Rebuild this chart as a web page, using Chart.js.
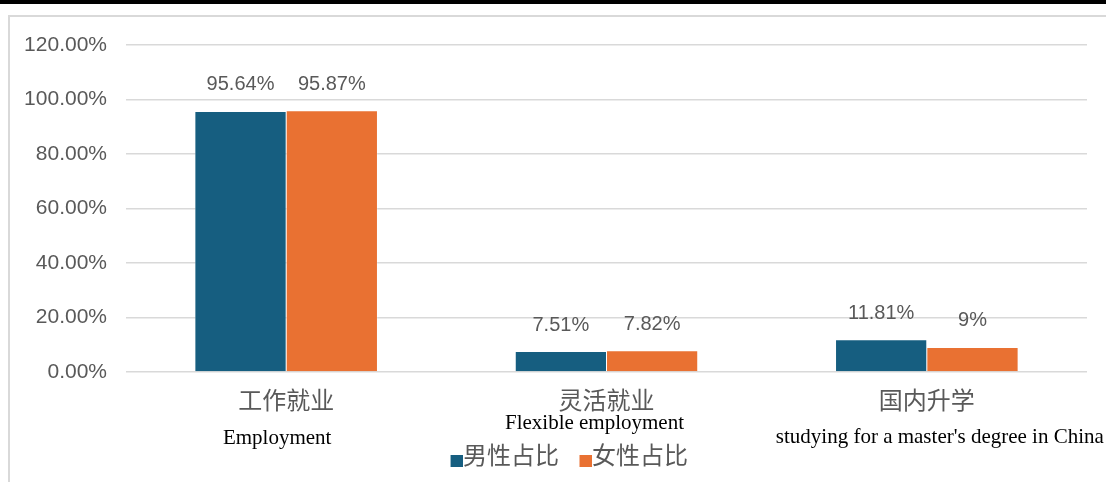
<!DOCTYPE html>
<html>
<head>
<meta charset="utf-8">
<script src="https://cdn.jsdelivr.net/npm/chart.js@4.4.1/dist/chart.umd.min.js"></script>
<style>
  html, body { margin: 0; padding: 0; background: #fff; }
  #wrap { position: relative; width: 1106px; height: 482px; }
  canvas { display: block; }
</style>
</head>
<body>
<div id="wrap"><canvas id="c" width="1106" height="482"></canvas></div>
<script>
// Categories (Chinese axis labels) and their English captions
const categories = ['工作就业', '灵活就业', '国内升学'];
const englishNames = ['Employment', 'Flexible employment', "studying for a master's degree in China"];

// Series: share of male / female graduates (%)
const seriesNames = ['男性占比', '女性占比'];
const maleShare = [95.64, 7.51, 11.81];
const femaleShare = [95.87, 7.82, 9];

// Value-axis ticks
const yTicks = [0, 20, 40, 60, 80, 100, 120];

// Styling
const BLUE = '#165E80';
const ORANGE = '#E97132';
const GRAY_TEXT = '#595959';
const GRID = '#d9d9d9';

// caption placement relative to each category centre: [dx, baseline y]
const captionPlacement = [[-9, 444], [-12, 429], [13, 443]];

function fmtLabel(v) {
  return v + '%';
}

// Legend marker: a square sitting a little right of and below the text centre line
function legendSwatch(color) {
  const c = document.createElement('canvas');
  c.width = 24;
  c.height = 26;
  const g = c.getContext('2d');
  g.fillStyle = color;
  g.fillRect(12, 13, 12, 12);
  return c;
}

const framePlugin = {
  id: 'frame',
  beforeDraw(chart) {
    const ctx = chart.ctx;
    ctx.save();
    ctx.fillStyle = '#fff';
    ctx.fillRect(0, 0, chart.width, chart.height);
    ctx.fillStyle = '#000';
    ctx.fillRect(0, 0, chart.width, 4);
    ctx.fillStyle = GRID;
    ctx.fillRect(8, 15, chart.width - 8, 2);
    ctx.fillRect(8, 15, 2, chart.height - 15);
    ctx.restore();
  }
};

// Nudge the legend row into place under the captions
const legendPlacePlugin = {
  id: 'legendPlace',
  afterLayout(chart) {
    const lg = chart.legend;
    if (!lg) return;
    lg.left += 25;
    lg.right += 26;
    const h = lg.bottom - lg.top;
    lg.top = 423;
    lg.bottom = lg.top + h;
  }
};

const valueLabelPlugin = {
  id: 'valueLabels',
  afterDatasetsDraw(chart) {
    const ctx = chart.ctx;
    ctx.save();
    ctx.font = '20px "Liberation Sans", Arial, sans-serif';
    ctx.fillStyle = GRAY_TEXT;
    ctx.textAlign = 'center';
    ctx.textBaseline = 'alphabetic';
    chart.data.datasets.forEach((ds, di) => {
      const meta = chart.getDatasetMeta(di);
      meta.data.forEach((bar, i) => {
        ctx.fillText(fmtLabel(ds.data[i]), bar.x, bar.y - 21);
      });
    });
    ctx.restore();
  }
};

const captionPlugin = {
  id: 'captions',
  afterDraw(chart) {
    const ctx = chart.ctx;
    const xs = chart.scales.x;
    ctx.save();
    ctx.font = '21px "Liberation Serif", "Times New Roman", serif';
    ctx.fillStyle = '#000';
    ctx.textAlign = 'center';
    ctx.textBaseline = 'alphabetic';
    englishNames.forEach((name, i) => {
      const p = captionPlacement[i];
      ctx.fillText(name, xs.getPixelForValue(i) + p[0], p[1]);
    });
    ctx.restore();
  }
};

new Chart(document.getElementById('c'), {
  type: 'bar',
  data: {
    labels: categories,
    datasets: [
      { label: seriesNames[0], data: maleShare, backgroundColor: BLUE, borderColor: '#ffffff', borderWidth: 0.5, pointStyle: legendSwatch(BLUE) },
      { label: seriesNames[1], data: femaleShare, backgroundColor: ORANGE, borderColor: '#ffffff', borderWidth: 0.5, pointStyle: legendSwatch(ORANGE) }
    ]
  },
  options: {
    responsive: false,
    animation: false,
    devicePixelRatio: 1,
    layout: { padding: { left: 0, right: 19, top: 45, bottom: 6 } },
    datasets: { bar: { categoryPercentage: 0.57, barPercentage: 1.0 } },
    scales: {
      x: {
        grid: { display: false },
        border: { display: false },
        ticks: {
          color: GRAY_TEXT,
          font: { family: '"Noto Sans CJK SC", sans-serif', size: 24 },
          padding: 5
        },
        afterFit(scale) { scale.height = 50; }
      },
      y: {
        min: 0,
        max: 120,
        afterBuildTicks(scale) { scale.ticks = yTicks.map(v => ({ value: v })); },
        grid: { color: GRID, lineWidth: 1.5, drawTicks: false },
        border: { display: false },
        ticks: {
          color: GRAY_TEXT,
          font: { family: '"Liberation Sans", Arial, sans-serif', size: 21 },
          padding: 19,
          callback: v => v.toFixed(2) + '%'
        },
        afterFit(scale) { scale.width = 126; }
      }
    },
    plugins: {
      legend: {
        position: 'bottom',
        labels: {
          color: GRAY_TEXT,
          font: { family: '"Noto Sans CJK SC", sans-serif', size: 24 },
          usePointStyle: true,
          pointStyleWidth: 1,
          boxHeight: 12,
          padding: 20
        }
      },
      tooltip: { enabled: false }
    }
  },
  plugins: [framePlugin, legendPlacePlugin, valueLabelPlugin, captionPlugin]
});
</script>
</body>
</html>
